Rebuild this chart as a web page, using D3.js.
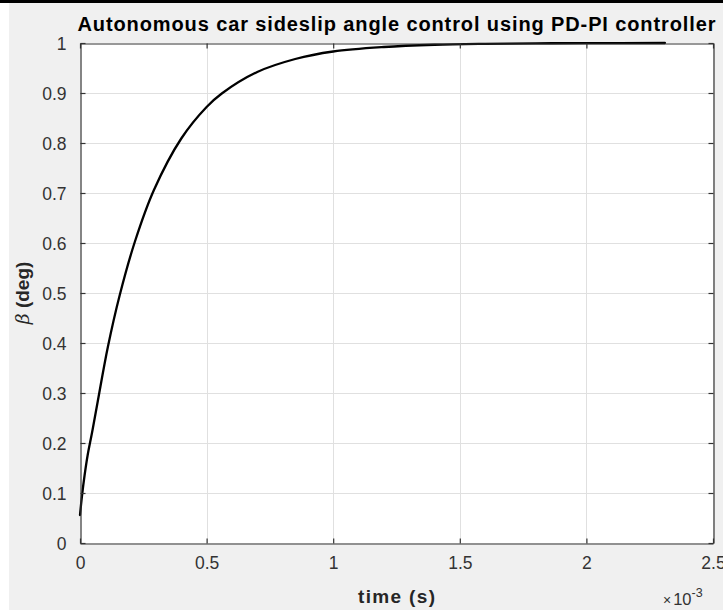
<!DOCTYPE html>
<html><head><meta charset="utf-8">
<script src="https://cdn.jsdelivr.net/npm/d3@7"></script>
<style>body{margin:0;background:#fff;overflow:hidden} svg{display:block}</style>
</head><body>
<svg id="c" width="723" height="610"></svg>
<script>
// time in units of 10^-3 s
const timeData = [0, 0.008, 0.018, 0.030, 0.048, 0.070, 0.110, 0.157, 0.217, 0.292, 0.40, 0.5, 0.56, 0.7, 0.85, 1.0, 1.2, 1.4, 1.6, 1.8, 2.0, 2.31];
const betaData = [0.056, 0.095, 0.135, 0.175, 0.222, 0.283, 0.392, 0.496, 0.603, 0.706, 0.809, 0.872, 0.899, 0.942, 0.968, 0.983, 0.992, 0.9965, 0.9984, 0.9993, 0.9997, 1.0];
const xTickValues = [0, 0.5, 1, 1.5, 2, 2.5];
const xTickLabels = ["0", "0.5", "1", "1.5", "2", "2.5"];
const yTickValues = [0, 0.1, 0.2, 0.3, 0.4, 0.5, 0.6, 0.7, 0.8, 0.9, 1];
const yTickLabels = ["0", "0.1", "0.2", "0.3", "0.4", "0.5", "0.6", "0.7", "0.8", "0.9", "1"];
const titleText = "Autonomous car sideslip angle control using PD-PI controller";
const xLabelText = "time (s)";

const svg = d3.select("#c");
const W = 723, H = 610;
const m = {left: 80, top: 43, right: 713, bottom: 543};
const axisColor = "#333333", gridColor = "#e0e0e0", textColor = "#333333";
const font = "'Liberation Sans', Arial, Helvetica, sans-serif";

// figure background
svg.append("rect").attr("x", 9).attr("y", 0).attr("width", W - 9).attr("height", H).attr("fill", "#f0f0f0");
svg.append("rect").attr("x", 0).attr("y", 0).attr("width", W).attr("height", 3).attr("fill", "#000");

const x = d3.scaleLinear().domain([0, 2.5]).range([m.left, m.right]);
const y = d3.scaleLinear().domain([0, 1]).range([m.bottom, m.top]);

// axes background
svg.append("rect").attr("x", m.left).attr("y", m.top)
  .attr("width", m.right - m.left).attr("height", m.bottom - m.top).attr("fill", "#fff");

// grid
const g = svg.append("g");
g.selectAll(".vg").data(xTickValues.slice(1, -1)).enter().append("line")
  .attr("x1", d => Math.round(x(d)) + 0.5).attr("x2", d => Math.round(x(d)) + 0.5)
  .attr("y1", m.top).attr("y2", m.bottom).attr("stroke", gridColor).attr("stroke-width", 1);
g.selectAll(".hg").data(yTickValues.slice(1, -1)).enter().append("line")
  .attr("y1", d => Math.round(y(d)) + 0.5).attr("y2", d => Math.round(y(d)) + 0.5)
  .attr("x1", m.left).attr("x2", m.right).attr("stroke", gridColor).attr("stroke-width", 1);

// curve
const line = d3.line().x((d, i) => x(timeData[i])).y(d => y(d)).curve(d3.curveCatmullRom.alpha(0.5));
svg.append("path").datum(betaData).attr("d", line)
  .attr("fill", "none").attr("stroke", "#000").attr("stroke-width", 2.3)
  .attr("stroke-linejoin", "round").attr("stroke-linecap", "round");

// axes using d3 axis generators (inward ticks)
const fmtX = (d) => xTickLabels[xTickValues.indexOf(d)];
const fmtY = (d) => yTickLabels[yTickValues.indexOf(d)];
const axB = svg.append("g").attr("transform", `translate(0,${m.bottom + 0.5})`)
  .call(d3.axisBottom(x).tickValues(xTickValues).tickFormat(fmtX).tickSizeInner(-5).tickSizeOuter(0).tickPadding(13));
const axT = svg.append("g").attr("transform", `translate(0,${m.top + 0.5})`)
  .call(d3.axisTop(x).tickValues(xTickValues).tickFormat("").tickSizeInner(-5).tickSizeOuter(0));
const axL = svg.append("g").attr("transform", `translate(${m.left + 0.5},0)`)
  .call(d3.axisLeft(y).tickValues(yTickValues).tickFormat(fmtY).tickSizeInner(-5).tickSizeOuter(0).tickPadding(14));
const axR = svg.append("g").attr("transform", `translate(${m.right + 0.5},0)`)
  .call(d3.axisRight(y).tickValues(yTickValues).tickFormat("").tickSizeInner(-5).tickSizeOuter(0));
[axB, axT, axL, axR].forEach(a => {
  a.select(".domain").attr("stroke", axisColor).attr("stroke-width", 1.2);
  a.selectAll(".tick line").attr("stroke", axisColor).attr("stroke-width", 1.2);
  a.selectAll("text").attr("fill", textColor).style("font-family", font).style("font-size", "17.5px");
});
axB.selectAll(".tick text").attr("dy", "0.71em");
axL.selectAll(".tick text").attr("dy", "0.36em");

// title
svg.append("text").attr("x", (m.left + m.right) / 2).attr("y", 31)
  .attr("text-anchor", "middle").style("font-family", font).style("font-weight", "bold")
  .style("font-size", "20px").attr("fill", "#000")
  .attr("textLength", 638).attr("lengthAdjust", "spacing").text(titleText);

// x label
svg.append("text").attr("x", (m.left + m.right) / 2).attr("y", 603)
  .attr("text-anchor", "middle").style("font-family", font).style("font-weight", "bold")
  .style("font-size", "19px").attr("fill", "#262626")
  .attr("textLength", 77).attr("lengthAdjust", "spacing").text(xLabelText);

// exponent label
const ex = svg.append("text").attr("x", 663).attr("y", 605)
  .style("font-family", font).style("font-size", "16.5px").attr("fill", textColor);
ex.append("tspan").text("\u00d7").style("font-size", "14px");
ex.append("tspan").text("10").attr("dx", 2);
ex.append("tspan").text("-3").attr("dy", -8).style("font-size", "12.5px");

// y label
const yl = svg.append("text").attr("transform", `translate(29,${(m.top + m.bottom) / 2}) rotate(-90)`)
  .attr("text-anchor", "middle").attr("fill", "#262626").style("font-size", "19px");
yl.append("tspan").text("\u03b2").style("font-family", "'DejaVu Serif', 'Liberation Serif', serif").style("font-style", "italic");
yl.append("tspan").text(" (deg)").style("font-family", font).style("font-weight", "bold");
</script>
</body></html>
